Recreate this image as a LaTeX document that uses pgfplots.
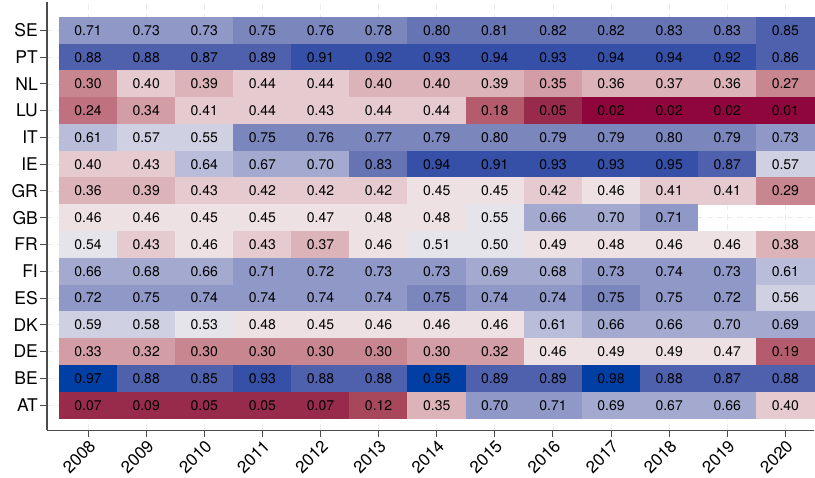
\documentclass[border=0pt]{standalone}
\usepackage{pgfplots}
\usepackage{pgfplotstable}
\pgfplotsset{compat=1.18}
\usepackage{fontspec}
\setmainfont{TeX Gyre Heros}

% one heat-map tile, sized to one x unit by one y unit of the axis below
\pgfdeclareplotmark{cell}{%
  \pgfpathrectangle{\pgfqpoint{-29.25pt}{-13.55pt}}{\pgfqpoint{58.5pt}{27.1pt}}%
  \pgfusepathqfill}

% diverging red--blue palette in steps of 0.05 (bin0 = 0.00--0.05, ..., bin19 = 0.95--1.00)
\definecolor{bin0}{RGB}{142,6,59}
\definecolor{bin1}{RGB}{152,43,75}
\definecolor{bin2}{RGB}{168,71,92}
\definecolor{bin3}{RGB}{180,92,109}
\definecolor{bin4}{RGB}{191,113,127}
\definecolor{bin5}{RGB}{200,134,144}
\definecolor{bin6}{RGB}{210,157,165}
\definecolor{bin7}{RGB}{220,179,185}
\definecolor{bin8}{RGB}{229,203,207}
\definecolor{bin9}{RGB}{237,225,227}
\definecolor{bin10}{RGB}{228,228,234}
\definecolor{bin11}{RGB}{207,209,226}
\definecolor{bin12}{RGB}{185,189,217}
\definecolor{bin13}{RGB}{164,170,207}
\definecolor{bin14}{RGB}{143,152,198}
\definecolor{bin15}{RGB}{122,134,188}
\definecolor{bin16}{RGB}{102,116,180}
\definecolor{bin17}{RGB}{79,97,172}
\definecolor{bin18}{RGB}{53,80,166}
\definecolor{bin19}{RGB}{2,63,165}

% x = year (0 = 2008), y = country row (0 = AT ... 14 = SE), v = share
\pgfplotstableread[row sep=\\]{
x y v \\
0 14 0.71 \\ 1 14 0.73 \\ 2 14 0.73 \\ 3 14 0.75 \\ 4 14 0.76 \\ 5 14 0.78 \\ 6 14 0.80 \\ 7 14 0.81 \\ 8 14 0.82 \\ 9 14 0.82 \\ 10 14 0.83 \\ 11 14 0.83 \\ 12 14 0.85 \\
0 13 0.88 \\ 1 13 0.88 \\ 2 13 0.87 \\ 3 13 0.89 \\ 4 13 0.91 \\ 5 13 0.92 \\ 6 13 0.93 \\ 7 13 0.94 \\ 8 13 0.93 \\ 9 13 0.94 \\ 10 13 0.94 \\ 11 13 0.92 \\ 12 13 0.86 \\
0 12 0.297 \\ 1 12 0.40 \\ 2 12 0.39 \\ 3 12 0.44 \\ 4 12 0.44 \\ 5 12 0.397 \\ 6 12 0.397 \\ 7 12 0.39 \\ 8 12 0.347 \\ 9 12 0.36 \\ 10 12 0.37 \\ 11 12 0.36 \\ 12 12 0.27 \\
0 11 0.24 \\ 1 11 0.34 \\ 2 11 0.41 \\ 3 11 0.44 \\ 4 11 0.43 \\ 5 11 0.44 \\ 6 11 0.44 \\ 7 11 0.18 \\ 8 11 0.05 \\ 9 11 0.02 \\ 10 11 0.02 \\ 11 11 0.02 \\ 12 11 0.01 \\
0 10 0.61 \\ 1 10 0.57 \\ 2 10 0.55 \\ 3 10 0.75 \\ 4 10 0.76 \\ 5 10 0.77 \\ 6 10 0.79 \\ 7 10 0.797 \\ 8 10 0.79 \\ 9 10 0.79 \\ 10 10 0.797 \\ 11 10 0.79 \\ 12 10 0.73 \\
0 9 0.40 \\ 1 9 0.43 \\ 2 9 0.64 \\ 3 9 0.67 \\ 4 9 0.697 \\ 5 9 0.83 \\ 6 9 0.94 \\ 7 9 0.91 \\ 8 9 0.93 \\ 9 9 0.93 \\ 10 9 0.947 \\ 11 9 0.87 \\ 12 9 0.57 \\
0 8 0.36 \\ 1 8 0.39 \\ 2 8 0.43 \\ 3 8 0.42 \\ 4 8 0.42 \\ 5 8 0.42 \\ 6 8 0.45 \\ 7 8 0.45 \\ 8 8 0.42 \\ 9 8 0.46 \\ 10 8 0.41 \\ 11 8 0.41 \\ 12 8 0.29 \\
0 7 0.46 \\ 1 7 0.46 \\ 2 7 0.45 \\ 3 7 0.45 \\ 4 7 0.47 \\ 5 7 0.48 \\ 6 7 0.48 \\ 7 7 0.547 \\ 8 7 0.66 \\ 9 7 0.697 \\ 10 7 0.71 \\
0 6 0.54 \\ 1 6 0.43 \\ 2 6 0.46 \\ 3 6 0.43 \\ 4 6 0.37 \\ 5 6 0.46 \\ 6 6 0.51 \\ 7 6 0.50 \\ 8 6 0.49 \\ 9 6 0.48 \\ 10 6 0.46 \\ 11 6 0.46 \\ 12 6 0.38 \\
0 5 0.66 \\ 1 5 0.68 \\ 2 5 0.66 \\ 3 5 0.71 \\ 4 5 0.72 \\ 5 5 0.73 \\ 6 5 0.73 \\ 7 5 0.69 \\ 8 5 0.68 \\ 9 5 0.73 \\ 10 5 0.74 \\ 11 5 0.73 \\ 12 5 0.61 \\
0 4 0.72 \\ 1 4 0.747 \\ 2 4 0.74 \\ 3 4 0.74 \\ 4 4 0.74 \\ 5 4 0.74 \\ 6 4 0.75 \\ 7 4 0.74 \\ 8 4 0.74 \\ 9 4 0.75 \\ 10 4 0.747 \\ 11 4 0.72 \\ 12 4 0.56 \\
0 3 0.59 \\ 1 3 0.58 \\ 2 3 0.53 \\ 3 3 0.48 \\ 4 3 0.45 \\ 5 3 0.46 \\ 6 3 0.46 \\ 7 3 0.46 \\ 8 3 0.61 \\ 9 3 0.66 \\ 10 3 0.66 \\ 11 3 0.697 \\ 12 3 0.69 \\
0 2 0.33 \\ 1 2 0.32 \\ 2 2 0.297 \\ 3 2 0.297 \\ 4 2 0.297 \\ 5 2 0.297 \\ 6 2 0.30 \\ 7 2 0.32 \\ 8 2 0.46 \\ 9 2 0.49 \\ 10 2 0.49 \\ 11 2 0.47 \\ 12 2 0.19 \\
0 1 0.97 \\ 1 1 0.88 \\ 2 1 0.85 \\ 3 1 0.93 \\ 4 1 0.88 \\ 5 1 0.88 \\ 6 1 0.95 \\ 7 1 0.89 \\ 8 1 0.89 \\ 9 1 0.98 \\ 10 1 0.88 \\ 11 1 0.87 \\ 12 1 0.88 \\
0 0 0.07 \\ 1 0 0.09 \\ 2 0 0.05 \\ 3 0 0.05 \\ 4 0 0.07 \\ 5 0 0.12 \\ 6 0 0.35 \\ 7 0 0.70 \\ 8 0 0.71 \\ 9 0 0.69 \\ 10 0 0.67 \\ 11 0 0.66 \\ 12 0 0.40 \\
}\heat

\begin{document}
\begin{tikzpicture}
\begin{axis}[
  scale only axis, width=767pt, height=428pt,
  xmin=-0.706, xmax=12.5, ymin=-0.937, ymax=15.06,
  axis x line*=bottom, axis y line*=left,
  axis line style={-, draw=black!70, line width=1.1pt},
  tick align=outside, major tick length=7pt,
  tick style={draw=black!70, line width=1pt},
  xtick={0,...,12},
  xticklabels={2008,2009,2010,2011,2012,2013,2014,2015,2016,2017,2018,2019,2020},
  ytick={0,...,14},
  yticklabels={AT,BE,DE,DK,ES,FI,FR,GB,GR,IE,IT,LU,NL,PT,SE},
  grid=major,
  major grid style={draw=black!8, line width=0.8pt, dash pattern=on 6pt off 4pt},
  point meta min=-0.002, point meta max=0.998,
  xticklabel style={rotate=45, anchor=north east, font=\fontsize{17}{19}\selectfont, inner sep=1pt},
  yticklabel style={font=\fontsize{17.5}{20}\selectfont, inner sep=2pt},
]
% tiles, coloured by the 0.05-wide bin that the value falls in
\addplot[scatter, only marks, mark=cell, point meta=\thisrow{v},
  scatter/@pre marker code/.code={%
    \pgfmathtruncatemacro\cellbin{min(19,\pgfplotspointmetatransformed/50)}%
    \pgfsetfillcolor{bin\cellbin}},
  scatter/@post marker code/.code={},
] table[x=x, y=y] {\heat};
% printed values
\addplot[draw=none, mark=none, point meta=\thisrow{v},
  nodes near coords={\pgfmathprintnumber[fixed,fixed zerofill,precision=2,assume math mode=true]{\pgfplotspointmeta}},
  every node near coord/.append style={anchor=center, text=black, font=\fontsize{14}{16}\selectfont, inner sep=0pt},
] table[x=x, y=y] {\heat};
\end{axis}
% white margin to the left of the labels, below the years and above the frame
\path ([shift={(-47pt,-47pt)}]current axis.south west) rectangle ([yshift=2pt]current axis.north east);
\end{tikzpicture}
\end{document}
